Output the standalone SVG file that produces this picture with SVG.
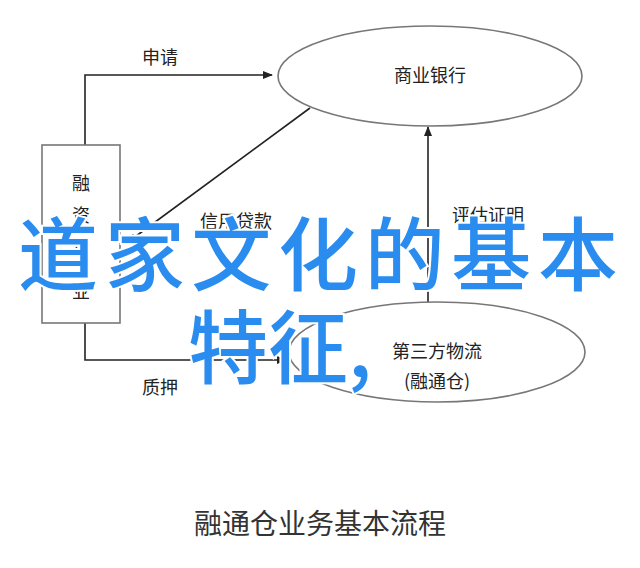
<svg xmlns="http://www.w3.org/2000/svg" width="640" height="568" viewBox="0 0 640 568">
<style>
.l{stroke:#222;stroke-width:1.6;fill:none}
.t{font-family:"Noto Sans CJK SC",sans-serif;font-size:18px;fill:#222;text-anchor:middle}
.n{fill:#fff;stroke:#777;stroke-width:1.6}
.b{font-family:"Noto Sans CJK SC",sans-serif;font-size:80px;font-weight:500;fill:#2a8cef;stroke:#fff;stroke-width:4;paint-order:stroke}
</style>
<defs><marker id="a" markerWidth="10" markerHeight="8" refX="9" refY="4" orient="auto" markerUnits="userSpaceOnUse"><path d="M0,0L10,4L0,8z" fill="#222"/></marker></defs>
<rect width="640" height="568" fill="#fff"/>
<g id="connectors">
<path class="l" d="M85,145V75H272" marker-end="url(#a)"/>
<path class="l" d="M310,108L128,242" marker-end="url(#a)"/>
<path class="l" d="M428,302V127" marker-end="url(#a)"/>
<path class="l" d="M85,323V360H286" marker-end="url(#a)"/>
<text class="t" x="160" y="64">申请</text>
<text class="t" x="236" y="228">信用贷款</text>
<text class="t" x="488" y="222">评估证明</text>
<text class="t" x="160" y="394">质押</text>
</g>
<g id="enterprise"><rect class="n" x="42" y="145" width="78" height="178"/>
<text class="t" x="81" y="190">融</text><text class="t" x="81" y="222">资</text><text class="t" x="81" y="254">企</text><text class="t" x="81" y="298">业</text></g>
<g id="bank"><ellipse class="n" cx="430" cy="76" rx="152" ry="50"/><text class="t" x="430" y="82">商业银行</text></g>
<g id="logistics"><ellipse class="n" cx="437" cy="352" rx="148" ry="50"/><text class="t" x="437" y="358">第三方物流</text><text class="t" x="437" y="388">(融通仓)</text></g>
<text x="320" y="534" font-family="Noto Sans CJK SC,sans-serif" font-size="28" fill="#333" text-anchor="middle">融通仓业务基本流程</text>
<text class="b" x="18" y="284" textLength="600">道家文化的基本</text>
<text class="b" x="188" y="377">特征,</text>
</svg>
